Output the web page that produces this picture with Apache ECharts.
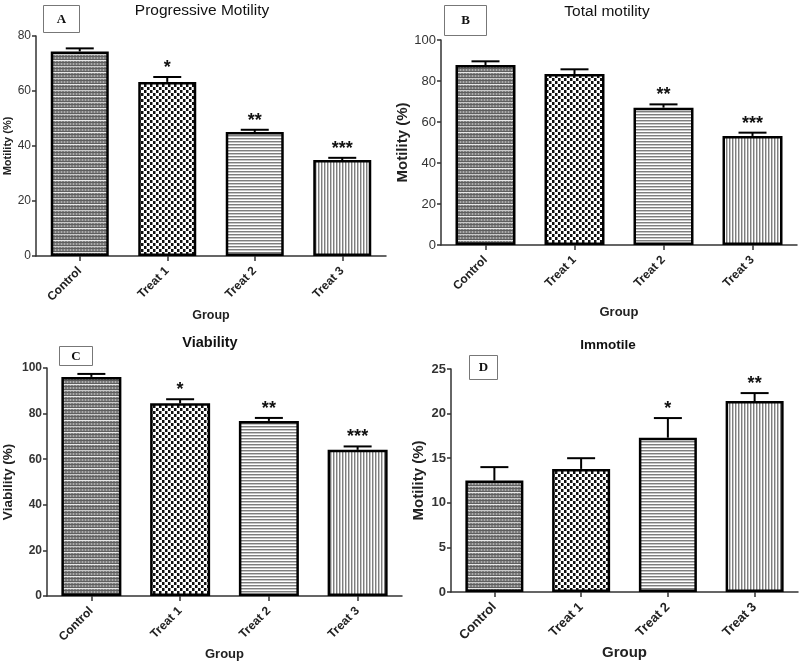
<!DOCTYPE html>
<html>
<head>
<meta charset="utf-8">
<script src="https://cdn.jsdelivr.net/npm/echarts@6/dist/echarts.min.js"></script>
<style>
html,body{margin:0;padding:0;background:#fff;}
#chart{width:800px;height:662px;}
</style>
</head>
<body>
<div id="chart"></div>
<script>
// ---- data ----
const groups = ['Control', 'Treat 1', 'Treat 2', 'Treat 3'];

const progressiveMean = [74.4, 63.3, 45.1, 34.9];
const progressiveErr  = [1.1, 1.8, 0.8, 0.8];
const progressiveSig  = ['', '*', '**', '***'];

const totalMean = [87.8, 83.4, 67.0, 53.2];
const totalErr  = [1.8, 2.3, 1.6, 1.6];
const totalSig  = ['', '', '**', '***'];

const viabilityMean = [96.1, 84.5, 76.8, 64.1];
const viabilityErr  = [1.3, 1.8, 1.3, 1.5];
const viabilitySig  = ['', '*', '**', '***'];

const immotileMean = [12.5, 13.8, 17.3, 21.4];
const immotileErr  = [1.5, 1.2, 2.2, 0.9];
const immotileSig  = ['', '', '*', '**'];

const panelTitles = ['Progressive Motility', 'Total motility', 'Viability', 'Immotile'];
const panelLetters = ['A', 'B', 'C', 'D'];
const yNames = ['Motility (%)', 'Motility (%)', 'Viability (%)', 'Motility (%)'];
const xName = 'Group';
const yMax = [80, 100, 100, 25];
const yInterval = [20, 20, 20, 5];

// ---- patterns ----
function pattern(kind) {
  const c = document.createElement('canvas');
  let ctx;
  if (kind === 0) {
    c.width = 12; c.height = 12; ctx = c.getContext('2d');
    ctx.fillStyle = '#7e7e7e'; ctx.fillRect(0, 0, 12, 12);
    ctx.fillStyle = '#ababab';
    for (let x = 1; x < 12; x += 3) ctx.fillRect(x, 0, 1, 12);
    ctx.fillStyle = '#5e5e5e';
    for (let y = 2; y < 12; y += 3) ctx.fillRect(0, y, 12, 1);
    ctx.fillStyle = '#e8e8e8';
    ctx.fillRect(0, 0, 12, 1);
    ctx.fillStyle = '#c8c8c8';
    ctx.fillRect(0, 6, 12, 1);
  } else if (kind === 1) {
    c.width = 6; c.height = 6; ctx = c.getContext('2d');
    ctx.fillStyle = '#ffffff'; ctx.fillRect(0, 0, 6, 6);
    ctx.fillStyle = '#111111';
    ctx.fillRect(0, 0, 3, 3); ctx.fillRect(3, 3, 3, 3);
    ctx.fillStyle = '#8a8a8a';
    ctx.fillRect(2, 0, 1, 3); ctx.fillRect(5, 3, 1, 3);
  } else if (kind === 2) {
    c.width = 4; c.height = 3; ctx = c.getContext('2d');
    ctx.fillStyle = '#ffffff'; ctx.fillRect(0, 0, 4, 3);
    ctx.fillStyle = '#7e7e7e'; ctx.fillRect(0, 0, 4, 1);
    ctx.fillStyle = '#c6c6c6'; ctx.fillRect(0, 1, 4, 1);
  } else {
    c.width = 3; c.height = 4; ctx = c.getContext('2d');
    ctx.fillStyle = '#ffffff'; ctx.fillRect(0, 0, 3, 4);
    ctx.fillStyle = '#7e7e7e'; ctx.fillRect(0, 0, 1, 4);
    ctx.fillStyle = '#c6c6c6'; ctx.fillRect(1, 0, 1, 4);
  }
  return { image: c, repeat: 'repeat' };
}
const fills = [pattern(0), pattern(1), pattern(2), pattern(3)];

// ---- layout (styles) ----
const FONT = "'Liberation Sans', Arial, sans-serif";
const grids = [
  { left: 36,  top: 36,  width: 350, height: 220 },
  { left: 441, top: 40,  width: 356, height: 205 },
  { left: 43,  top: 368, width: 359, height: 230 },
  { left: 451, top: 369, width: 347, height: 223 }
];
const barW = [58, 60, 60, 58];
const xLabelStyle = [
  { fontSize: 12, fontWeight: 'bold' },
  { fontSize: 12, fontWeight: 'bold' },
  { fontSize: 12, fontWeight: 'bold' },
  { fontSize: 13, fontWeight: 'bold' }
];
const yLabelStyle = [
  { fontSize: 12, fontWeight: 'normal' },
  { fontSize: 13, fontWeight: 'normal' },
  { fontSize: 12, fontWeight: 'bold' },
  { fontSize: 13, fontWeight: 'bold' }
];
const yNameStyle = [
  { fontSize: 11, gap: 19 },
  { fontSize: 15, gap: 27 },
  { fontSize: 13.5, gap: 32 },
  { fontSize: 15, gap: 25 }
];
const xNameStyle = [
  { fontSize: 12.5, gap: 53 },
  { fontSize: 13, gap: 61 },
  { fontSize: 13, gap: 52 },
  { fontSize: 15, gap: 53 }
];
const titleStyle = [
  { x: 202, y: 11, font: 'normal 15.5px ' + FONT },
  { x: 607, y: 12, font: 'normal 15.5px ' + FONT },
  { x: 210, y: 343, font: 'bold 14.5px ' + FONT },
  { x: 608, y: 345, font: 'bold 13.5px ' + FONT }
];
const boxes = [
  { x: 43, y: 5, w: 36, h: 27 },
  { x: 444, y: 5, w: 42, h: 30 },
  { x: 59, y: 346, w: 33, h: 19 },
  { x: 469, y: 355, w: 28, h: 24 }
];

const means = [progressiveMean, totalMean, viabilityMean, immotileMean];
const errs = [progressiveErr, totalErr, viabilityErr, immotileErr];
const sigs = [progressiveSig, totalSig, viabilitySig, immotileSig];

const xAxes = [], yAxes = [], series = [], graphics = [];
for (let p = 0; p < 4; p++) {
  xAxes.push({
    type: 'category', gridIndex: p, data: groups,
    name: xName, nameLocation: 'middle', nameGap: xNameStyle[p].gap,
    nameTextStyle: { fontFamily: FONT, fontWeight: 'bold', fontSize: xNameStyle[p].fontSize, color: '#222' },
    axisLine: { lineStyle: { color: '#333', width: 1.5 } },
    axisTick: { show: true, alignWithLabel: true, length: 5, lineStyle: { color: '#333', width: 1.5 } },
    axisLabel: { rotate: 45, margin: 13, fontFamily: FONT, color: '#222', fontSize: xLabelStyle[p].fontSize, fontWeight: xLabelStyle[p].fontWeight },
    splitLine: { show: false }
  });
  yAxes.push({
    type: 'value', gridIndex: p, min: 0, max: yMax[p], interval: yInterval[p],
    name: yNames[p], nameLocation: 'middle', nameGap: yNameStyle[p].gap, nameRotate: 90,
    nameTextStyle: { fontFamily: FONT, fontWeight: 'bold', fontSize: yNameStyle[p].fontSize, color: '#222' },
    axisLine: { show: true, lineStyle: { color: '#333', width: 1.5 } },
    axisTick: { show: true, length: 4, lineStyle: { color: '#333', width: 1.5 } },
    axisLabel: { margin: 5, fontFamily: FONT, color: '#333', fontSize: yLabelStyle[p].fontSize, fontWeight: yLabelStyle[p].fontWeight },
    splitLine: { show: false }
  });
  series.push({
    type: 'bar', xAxisIndex: p, yAxisIndex: p, barWidth: barW[p],
    data: means[p].map((v, i) => ({ value: v, itemStyle: { color: fills[i] } })),
    itemStyle: { borderColor: '#000', borderWidth: 2.5 },
    emphasis: { disabled: true },
    silent: true, animation: false, z: 2
  });
  const sig = sigs[p];
  series.push({
    type: 'custom', xAxisIndex: p, yAxisIndex: p, z: 5, silent: true, animation: false,
    data: means[p].map((v, i) => [i, v, errs[p][i]]),
    renderItem: function (params, api) {
      const i = api.value(0), v = api.value(1), e = api.value(2);
      const base = api.coord([i, v]);
      const top = api.coord([i, v + e]);
      const half = 14;
      const children = [
        { type: 'line', shape: { x1: base[0], y1: base[1], x2: top[0], y2: top[1] }, style: { stroke: '#000', lineWidth: 2 } },
        { type: 'line', shape: { x1: top[0] - half, y1: top[1], x2: top[0] + half, y2: top[1] }, style: { stroke: '#000', lineWidth: 2 } }
      ];
      const s = sig[params.dataIndex];
      if (s) {
        children.push({
          type: 'text',
          style: { text: s, x: top[0], y: top[1] - 9, align: 'center', verticalAlign: 'middle',
                   textAlign: 'center', textVerticalAlign: 'middle',
                   font: 'bold 18px ' + FONT, fill: '#111' }
        });
      }
      return { type: 'group', children: children };
    }
  });
  graphics.push({
    type: 'text', x: titleStyle[p].x, y: titleStyle[p].y,
    style: { text: panelTitles[p], font: titleStyle[p].font, fill: '#111', align: 'center', verticalAlign: 'middle', textAlign: 'center', textVerticalAlign: 'middle' }
  });
  graphics.push({
    type: 'rect', shape: { x: boxes[p].x + 0.5, y: boxes[p].y + 0.5, width: boxes[p].w, height: boxes[p].h },
    style: { fill: '#fff', stroke: '#777', lineWidth: 1 }
  });
  graphics.push({
    type: 'text', x: boxes[p].x + boxes[p].w / 2 + 0.5, y: boxes[p].y + boxes[p].h / 2 + 1,
    style: { text: panelLetters[p], font: "bold 13px 'Liberation Serif', 'Times New Roman', serif", fill: '#111', align: 'center', verticalAlign: 'middle', textAlign: 'center', textVerticalAlign: 'middle' }
  });
}

const chart = echarts.init(document.getElementById('chart'), null, { renderer: 'canvas' });
chart.setOption({
  animation: false,
  backgroundColor: '#fff',
  grid: grids.map(g => Object.assign({ containLabel: false }, g)),
  xAxis: xAxes,
  yAxis: yAxes,
  series: series,
  graphic: graphics
});
</script>
</body>
</html>
